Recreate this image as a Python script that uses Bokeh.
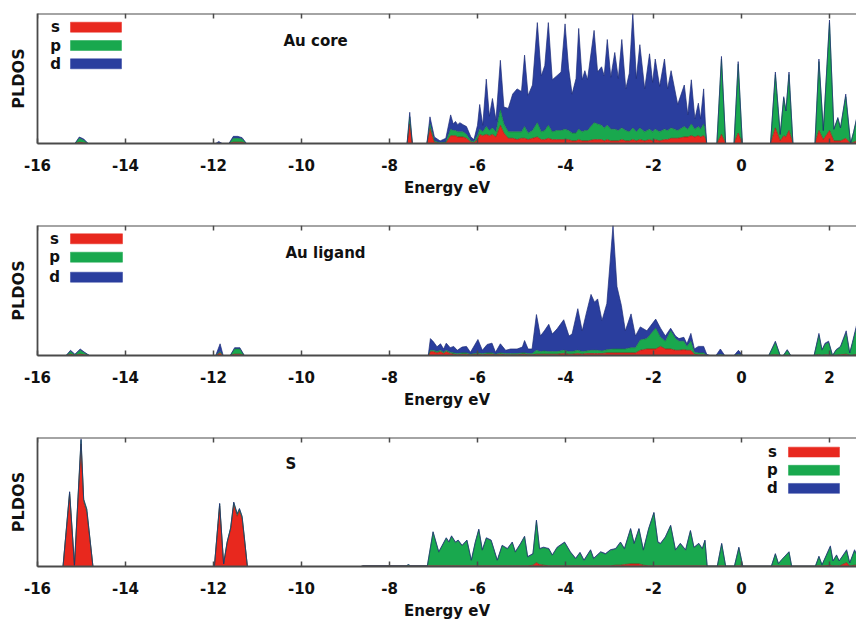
from bokeh.plotting import figure
from bokeh.layouts import column
from bokeh.models import ColumnDataSource, Range1d, FixedTicker, Label, Span
from bokeh.embed import file_html
from bokeh.resources import INLINE

# ---------------- data ----------------
tick_values = [-16, -14, -12, -10, -8, -6, -4, -2, 0, 2]
tick_labels = ["-16", "-14", "-12", "-10", "-8", "-6", "-4", "-2", "0", "2"]
orbital_names = ["s", "p", "d"]
panel_names = ["Au core", "Au ligand", "S"]

# Au core
energy_core = [-16.0, -15.15, -15.05, -14.95, -14.85, -11.95, -11.88, -11.8, -11.65, -11.55, -11.45, -11.35, -11.25,
               -7.6, -7.54, -7.48, -7.15, -7.08, -6.98, -6.85, -6.72, -6.61, -6.55, -6.5, -6.45, -6.4, -6.33, -6.25,
               -6.15, -6.08, -6.0, -5.95, -5.88, -5.8, -5.73, -5.66, -5.58, -5.48, -5.4, -5.3, -5.2, -5.1, -5.0,
               -4.93, -4.85, -4.75, -4.64, -4.55, -4.47, -4.39, -4.3, -4.2, -4.1, -4.01, -3.93, -3.85, -3.76, -3.7,
               -3.62, -3.56, -3.5, -3.35, -3.27, -3.18, -3.12, -3.05, -2.97, -2.88, -2.8, -2.72, -2.63, -2.55, -2.47,
               -2.39, -2.31, -2.2, -2.09, -2.02, -1.96, -1.86, -1.75, -1.68, -1.6, -1.45, -1.3, -1.22, -1.14, -1.06,
               -0.98, -0.93, -0.86, -0.82, -0.79, -0.56, -0.455, -0.36, -0.17, -0.075, 0.02, 0.66, 0.77, 0.88, 0.96,
               1.01, 1.08, 1.17, 1.67, 1.76, 1.86, 2.0, 2.1, 2.19, 2.25, 2.37, 2.48, 2.55, 2.62]
s_core = [0, 0, 0.01, 0.005, 0, 0, 0, 0, 0, 0.01, 0.01, 0.01, 0,
          0, 0.15, 0, 0, 0.115, 0.01, 0, 0.005, 0.06, 0.06, 0.06, 0.05, 0.05, 0.05, 0.04,
          0.01, 0.005, 0.03, 0.07, 0.06, 0.07, 0.06, 0.07, 0.05, 0.14, 0.08, 0.04, 0.04, 0.03, 0.04,
          0.04, 0.03, 0.04, 0.05, 0.03, 0.03, 0.04, 0.03, 0.03, 0.03, 0.03, 0.03, 0.02, 0.02, 0.03,
          0.02, 0.02, 0.02, 0.03, 0.03, 0.03, 0.02, 0.03, 0.02, 0.02, 0.02, 0.03, 0.02, 0.02, 0.03,
          0.02, 0.03, 0.02, 0.03, 0.02, 0.03, 0.02, 0.03, 0.03, 0.04, 0.04, 0.05, 0.05, 0.06, 0.05,
          0.06, 0.05, 0.06, 0.04, 0, 0, 0.07, 0, 0, 0.08, 0, 0, 0.12, 0.02, 0.06,
          0.05, 0.10, 0, 0, 0.10, 0.03, 0.10, 0.02, 0.02, 0.02, 0.04, 0, 0.01, 0.02]
p_core = [0, 0, 0.03, 0.02, 0, 0, 0, 0, 0, 0.03, 0.03, 0.025, 0,
          0, 0.055, 0, 0, 0.035, 0.01, 0.005, 0.005, 0.05, 0.04, 0.04, 0.04, 0.04, 0.04, 0.03,
          0.01, 0.01, 0.03, 0.04, 0.03, 0.06, 0.04, 0.05, 0.04, 0.12, 0.07, 0.05, 0.05, 0.06, 0.05,
          0.09, 0.05, 0.06, 0.11, 0.06, 0.07, 0.10, 0.06, 0.07, 0.07, 0.08, 0.07, 0.06, 0.06, 0.08,
          0.07, 0.08, 0.08, 0.13, 0.12, 0.11, 0.10, 0.11, 0.09, 0.09, 0.08, 0.09, 0.08, 0.07, 0.09,
          0.07, 0.09, 0.07, 0.08, 0.07, 0.08, 0.07, 0.08, 0.07, 0.08, 0.06, 0.08, 0.06, 0.09, 0.06,
          0.07, 0.06, 0.09, 0.05, 0, 0, 0.58, 0, 0, 0.53, 0, 0, 0.41, 0.05, 0.29,
          0.20, 0.43, 0, 0, 0.53, 0.07, 0.83, 0.09, 0.17, 0.10, 0.32, 0, 0.08, 0.17]
d_core = [0, 0, 0.01, 0.01, 0, 0, 0.015, 0, 0, 0.015, 0.015, 0.01, 0,
          0, 0.035, 0, 0, 0.055, 0.03, 0.015, 0.03, 0.11, 0.05, 0.07, 0.055, 0.07, 0.055, 0.06,
          0.03, 0.015, 0.08, 0.19, 0.05, 0.365, 0.11, 0.226, 0.09, 0.38, 0.13, 0.18, 0.29, 0.33, 0.31,
          0.55, 0.29, 0.35, 0.77, 0.43, 0.50, 0.79, 0.40, 0.42, 0.45, 0.81, 0.48, 0.30, 0.42, 0.775,
          0.40, 0.46, 0.39, 0.71, 0.40, 0.45, 0.40, 0.66, 0.40, 0.59, 0.40, 0.68, 0.32, 0.45, 0.88,
          0.41, 0.64, 0.33, 0.58, 0.38, 0.54, 0.35, 0.54, 0.32, 0.44, 0.20, 0.32, 0.11, 0.34, 0.08,
          0.18, 0.08, 0.27, 0.06, 0, 0, 0.02, 0, 0, 0.02, 0, 0, 0.02, 0, 0.01,
          0, 0.02, 0, 0, 0.02, 0, 0.02, 0, 0.01, 0, 0.02, 0, 0, 0.01]

# Au ligand
energy_lig = [-16.0, -15.35, -15.25, -15.15, -15.03, -14.93, -14.82, -11.95, -11.85, -11.78, -11.62, -11.52, -11.4,
              -11.3, -7.12, -7.07, -7.0, -6.92, -6.84, -6.77, -6.71, -6.62, -6.54, -6.46, -6.35, -6.25, -6.16,
              -5.99, -5.89, -5.78, -5.67, -5.59, -5.48, -5.36, -5.25, -5.1, -4.98, -4.93, -4.85, -4.76, -4.66,
              -4.57, -4.48, -4.38, -4.3, -4.19, -4.04, -3.92, -3.85, -3.72, -3.62, -3.53, -3.42, -3.34, -3.27,
              -3.17, -3.06, -2.92, -2.83, -2.73, -2.64, -2.51, -2.41, -2.3, -2.15, -1.95, -1.84, -1.73, -1.61,
              -1.5, -1.42, -1.31, -1.24, -1.15, -1.07, -0.98, -0.86, -0.79, -0.72, -0.58, -0.48, -0.38, -0.17,
              -0.07, 0.03, 0.62, 0.77, 0.88, 0.95, 1.04, 1.12, 1.65, 1.76, 1.83, 1.9, 1.98, 2.07, 2.15, 2.25,
              2.38, 2.46, 2.52, 2.62]
s_lig = [0, 0, 0.01, 0, 0.01, 0.005, 0, 0, 0.02, 0, 0, 0.01, 0.01,
         0, 0, 0.03, 0.03, 0.02, 0.03, 0.015, 0.03, 0.015, 0.01, 0.005, 0.01, 0.01, 0.005,
         0.01, 0.005, 0.01, 0.01, 0.005, 0.01, 0.005, 0.005, 0.005, 0.01, 0.01, 0.005, 0.005, 0.01,
         0.01, 0.01, 0.01, 0.01, 0.01, 0.015, 0.01, 0.01, 0.015, 0.01, 0.015, 0.015, 0.015, 0.015,
         0.015, 0.02, 0.02, 0.02, 0.02, 0.02, 0.02, 0.02, 0.04, 0.05, 0.05, 0.07, 0.05, 0.05,
         0.04, 0.04, 0.045, 0.04, 0.04, 0.01, 0.005, 0.005, 0, 0, 0, 0, 0, 0,
         0, 0, 0, 0.005, 0, 0, 0, 0, 0, 0.005, 0, 0.005, 0.005, 0, 0, 0.005,
         0.01, 0, 0, 0.01]
p_lig = [0, 0, 0.02, 0.005, 0.03, 0.015, 0, 0, 0.01, 0, 0, 0.04, 0.04,
         0, 0, 0.01, 0.01, 0.01, 0.01, 0.01, 0.01, 0.01, 0.01, 0.01, 0.01, 0.01, 0.005,
         0.01, 0.01, 0.01, 0.01, 0.005, 0.01, 0.01, 0.01, 0.01, 0.01, 0.01, 0.01, 0.01, 0.03,
         0.02, 0.025, 0.02, 0.02, 0.02, 0.025, 0.02, 0.02, 0.025, 0.02, 0.02, 0.025, 0.025, 0.025,
         0.02, 0.025, 0.03, 0.03, 0.03, 0.03, 0.04, 0.04, 0.08, 0.08, 0.16, 0.07, 0.06, 0.14,
         0.09, 0.07, 0.065, 0.03, 0.07, 0.015, 0.015, 0.015, 0, 0, 0, 0.01, 0, 0,
         0.01, 0, 0, 0.095, 0, 0, 0.04, 0, 0, 0.15, 0.04, 0.08, 0.095, 0, 0.04, 0.06,
         0.16, 0.02, 0.09, 0.21]
d_lig = [0, 0, 0.01, 0.005, 0.01, 0.005, 0, 0, 0.06, 0, 0, 0.01, 0.01,
         0, 0, 0.09, 0.065, 0.037, 0.05, 0.025, 0.055, 0.035, 0.05, 0.025, 0.045, 0.05, 0.015,
         0.103, 0.025, 0.065, 0.075, 0.015, 0.07, 0.025, 0.035, 0.035, 0.045, 0.095, 0.035, 0.035, 0.275,
         0.12, 0.155, 0.21, 0.135, 0.175, 0.235, 0.12, 0.135, 0.32, 0.16, 0.285, 0.43, 0.37, 0.395,
         0.235, 0.355, 0.95, 0.48, 0.335, 0.14, 0.26, 0.09, 0.10, 0.06, 0.07, 0.07, 0.04, 0.02,
         0.02, 0.02, 0.03, 0.02, 0.06, 0.025, 0.05, 0.05, 0.01, 0, 0, 0.04, 0, 0,
         0.03, 0, 0, 0.01, 0, 0, 0.005, 0, 0, 0.015, 0.005, 0.01, 0.01, 0, 0.005, 0.005,
         0.02, 0, 0.01, 0.02]

# S
energy_s = [-16.0, -15.42, -15.27, -15.16, -15.01, -14.95, -14.88, -14.8, -14.74, -11.98, -11.86, -11.77, -11.69,
            -11.61, -11.54, -11.46, -11.41, -11.35, -11.3, -11.23, -8.65, -8.6, -7.62, -7.57, -7.52, -7.14,
            -7.01, -6.88, -6.71, -6.65, -6.59, -6.5, -6.44, -6.35, -6.24, -6.14, -6.05, -5.97, -5.89, -5.8,
            -5.69, -5.55, -5.44, -5.32, -5.21, -5.14, -5.02, -4.93, -4.86, -4.74, -4.66, -4.59, -4.5, -4.38,
            -4.3, -4.19, -4.02, -3.89, -3.77, -3.67, -3.58, -3.43, -3.36, -3.2, -3.09, -2.98, -2.86, -2.75,
            -2.66, -2.52, -2.44, -2.33, -2.23, -2.11, -1.99, -1.9, -1.84, -1.73, -1.61, -1.5, -1.39, -1.27,
            -1.16, -1.08, -0.97, -0.89, -0.83, -0.78, -0.55, -0.45, -0.36, -0.16, -0.06, 0.03, 0.68, 0.77,
            0.84, 0.92, 1.08, 1.14, 1.68, 1.76, 1.83, 2.02, 2.08, 2.16, 2.22, 2.39, 2.46, 2.57, 2.62]
s_s = [0, 0, 0.56, 0.01, 0.95, 0.50, 0.42, 0.18, 0, 0, 0.47, 0.02, 0.18,
       0.29, 0.48, 0.39, 0.43, 0.37, 0.22, 0, 0, 0.005, 0.005, 0.005, 0.005, 0.005,
       0.005, 0.005, 0.005, 0.005, 0.005, 0.005, 0.005, 0.005, 0.005, 0.005, 0.005, 0.005, 0.005, 0.005,
       0.005, 0.005, 0.005, 0.005, 0.005, 0.005, 0.005, 0.005, 0.005, 0.01, 0.03, 0.015, 0.01, 0.005,
       0.005, 0.005, 0.005, 0.005, 0.005, 0.005, 0.005, 0.005, 0.005, 0.005, 0.005, 0.005, 0.01, 0.01,
       0.015, 0.02, 0.02, 0.02, 0.01, 0.005, 0.005, 0.005, 0.005, 0.005, 0.005, 0.005, 0.005, 0.005,
       0.005, 0.005, 0.005, 0.005, 0.005, 0.003, 0.003, 0.005, 0.003, 0.003, 0.005, 0.003, 0.003, 0.005,
       0.003, 0.005, 0.005, 0.003, 0.003, 0.005, 0.003, 0.01, 0.003, 0.005, 0.003, 0.03, 0.003, 0.01, 0.01]
p_s = [0, 0, 0.015, 0, 0.03, 0.02, 0.025, 0.01, 0, 0, 0.015, 0, 0.01,
       0.01, 0.015, 0.015, 0.015, 0.015, 0.01, 0, 0, 0, 0, 0.008, 0, 0,
       0.26, 0.105, 0.213, 0.182, 0.228, 0.18, 0.195, 0.155, 0.195, 0.04, 0.18, 0.28, 0.12, 0.213,
       0.195, 0.04, 0.155, 0.13, 0.18, 0.105, 0.17, 0.225, 0.067, 0.085, 0.325, 0.12, 0.135, 0.13,
       0.08, 0.14, 0.18, 0.105, 0.054, 0.10, 0.04, 0.12, 0.054, 0.105, 0.09, 0.12, 0.125, 0.175,
       0.12, 0.27, 0.155, 0.27, 0.115, 0.285, 0.41, 0.18, 0.17, 0.22, 0.31, 0.12, 0.17, 0.12,
       0.27, 0.14, 0.17, 0.13, 0.195, 0, 0, 0.17, 0, 0, 0.14, 0, 0, 0.09,
       0.02, 0.05, 0.105, 0, 0, 0.07, 0.01, 0.14, 0.04, 0.08, 0.04, 0.09, 0.025, 0.11, 0.08]
d_s = [0, 0, 0.005, 0, 0.01, 0, 0, 0, 0, 0, 0.005, 0, 0,
       0, 0.005, 0.005, 0.005, 0.005, 0, 0, 0, 0, 0, 0.002, 0, 0,
       0.005, 0.005, 0.005, 0.005, 0.005, 0.005, 0.005, 0.005, 0.005, 0.005, 0.005, 0.005, 0.005, 0.005,
       0.005, 0.005, 0.005, 0.005, 0.005, 0.005, 0.005, 0.005, 0.005, 0.005, 0.005, 0.005, 0.005, 0.005,
       0.005, 0.005, 0.005, 0.005, 0.005, 0.005, 0.005, 0.005, 0.005, 0.005, 0.005, 0.005, 0.005, 0.005,
       0.005, 0.005, 0.005, 0.005, 0.005, 0.005, 0.005, 0.005, 0.005, 0.005, 0.005, 0.005, 0.005, 0.005,
       0.005, 0.005, 0.005, 0.005, 0.005, 0, 0, 0.005, 0, 0, 0.005, 0, 0, 0.005,
       0, 0, 0.005, 0, 0, 0.005, 0, 0.01, 0, 0.005, 0, 0.01, 0, 0.01, 0]

# ---------------- layout / style ----------------
X_START, X_END = -16.0, 2.614
LEFT_PX = 37          # frame left edge in page pixels
PX_PER_EV = 44.0
FRAME_H = 130
FONT = "DejaVu Sans"
AXIS_COLOR = "#4a4a4a"
FILL = ["#e8281e", "#19a84e", "#2a3e9e"]
EDGE = ["#a01812", "#157a3e", "#1c2c78"]


def ex(px):
    return X_START + (px - LEFT_PX) / PX_PER_EV


def fy(py, frame_bottom):
    return (frame_bottom - py) / FRAME_H


def make_panel(E, s, p, d, name, name_px, legend, height, border_bottom, frame_bottom):
    src = ColumnDataSource(dict(E=E, s=s, p=p, d=d))
    fig = figure(width=856, height=height, x_range=Range1d(X_START, X_END), y_range=Range1d(0, 1),
                 output_backend="svg", toolbar_location=None,
                 min_border_left=LEFT_PX, min_border_right=0, min_border_top=13,
                 min_border_bottom=border_bottom, outline_line_color=None,
                 background_fill_color="white", border_fill_color="white")
    fig.xgrid.visible = False
    fig.ygrid.visible = False

    fig.varea_stack(orbital_names, x="E", color=FILL, source=src)
    fig.vline_stack(orbital_names, x="E", color=EDGE, line_width=0.7, source=src)

    # x axis
    xa = fig.xaxis[0]
    xa.ticker = FixedTicker(ticks=tick_values)
    xa.major_label_overrides = dict(zip(tick_values, tick_labels))
    xa.major_tick_in = 5
    xa.major_tick_out = 0
    xa.minor_tick_line_color = None
    xa.major_tick_line_color = AXIS_COLOR
    xa.major_tick_line_width = 1.5
    xa.axis_line_color = AXIS_COLOR
    xa.axis_line_width = 1.8
    xa.major_label_standoff = 15
    xa.major_label_text_font = FONT
    xa.major_label_text_font_size = "15px"
    xa.major_label_text_font_style = "bold"
    xa.major_label_text_color = "#111111"
    xa.axis_label = "Energy eV"
    xa.axis_label_text_font = FONT
    xa.axis_label_text_font_size = "15px"
    xa.axis_label_text_font_style = "bold"
    xa.axis_label_text_color = "#111111"
    xa.axis_label_standoff = 5

    # y axis
    ya = fig.yaxis[0]
    ya.ticker = FixedTicker(ticks=[])
    ya.major_tick_in = 0
    ya.major_tick_out = 0
    ya.minor_tick_line_color = None
    ya.major_label_standoff = 0
    ya.axis_line_color = AXIS_COLOR
    ya.axis_line_width = 1.8
    ya.axis_label = "PLDOS"
    ya.axis_label_text_font = FONT
    ya.axis_label_text_font_size = "16px"
    ya.axis_label_text_font_style = "bold"
    ya.axis_label_text_color = "#111111"
    ya.axis_label_standoff = 10

    # top border with inward ticks
    fig.add_layout(Span(location=1.0, dimension="width", line_color=AXIS_COLOR, line_width=1.8))
    fig.segment(x0=tick_values, y0=[1.0] * len(tick_values), x1=tick_values,
                y1=[1.0 - 5 / FRAME_H] * len(tick_values), line_color=AXIS_COLOR, line_width=1.5)

    # panel title
    fig.add_layout(Label(x=ex(name_px[0]), y=fy(name_px[1], frame_bottom), text=name,
                         text_font=FONT, text_font_size="15px", text_font_style="bold",
                         text_color="#111111", text_baseline="middle", text_align="left"))

    # legend (letters left of swatches)
    letter_x, bar_x0, bar_x1, bar_ys = legend
    for lab, col, (t, b) in zip(orbital_names, FILL, bar_ys):
        fig.quad(left=[ex(bar_x0)], right=[ex(bar_x1)], top=[fy(t, frame_bottom)],
                 bottom=[fy(b, frame_bottom)], fill_color=col, line_color=col, line_width=0.5)
        fig.add_layout(Label(x=ex(letter_x), y=fy((t + b) / 2, frame_bottom), text=lab,
                             text_font=FONT, text_font_size="15px", text_font_style="bold",
                             text_color="#111111", text_baseline="middle", text_align="center"))
    return fig


f1 = make_panel(energy_core, s_core, p_core, d_core, panel_names[0], (283, 40),
                (55, 70, 121, [(21.7, 31.7), (40, 50), (58.3, 68.3)]), 212, 69, 143)
f2 = make_panel(energy_lig, s_lig, p_lig, d_lig, panel_names[1], (285, 252.5),
                (54, 70, 122, [(233.3, 243.3), (251.7, 261.7), (271.7, 281.7)]), 212, 69, 355)
f3 = make_panel(energy_s, s_s, p_s, d_s, panel_names[2], (285, 464),
                (772, 788, 839, [(446.7, 456.7), (465, 475), (483.3, 493.3)]), 198, 55, 567)

layout = column(f1, f2, f3, spacing=0)
open("out.html", "w").write(file_html(layout, INLINE))
